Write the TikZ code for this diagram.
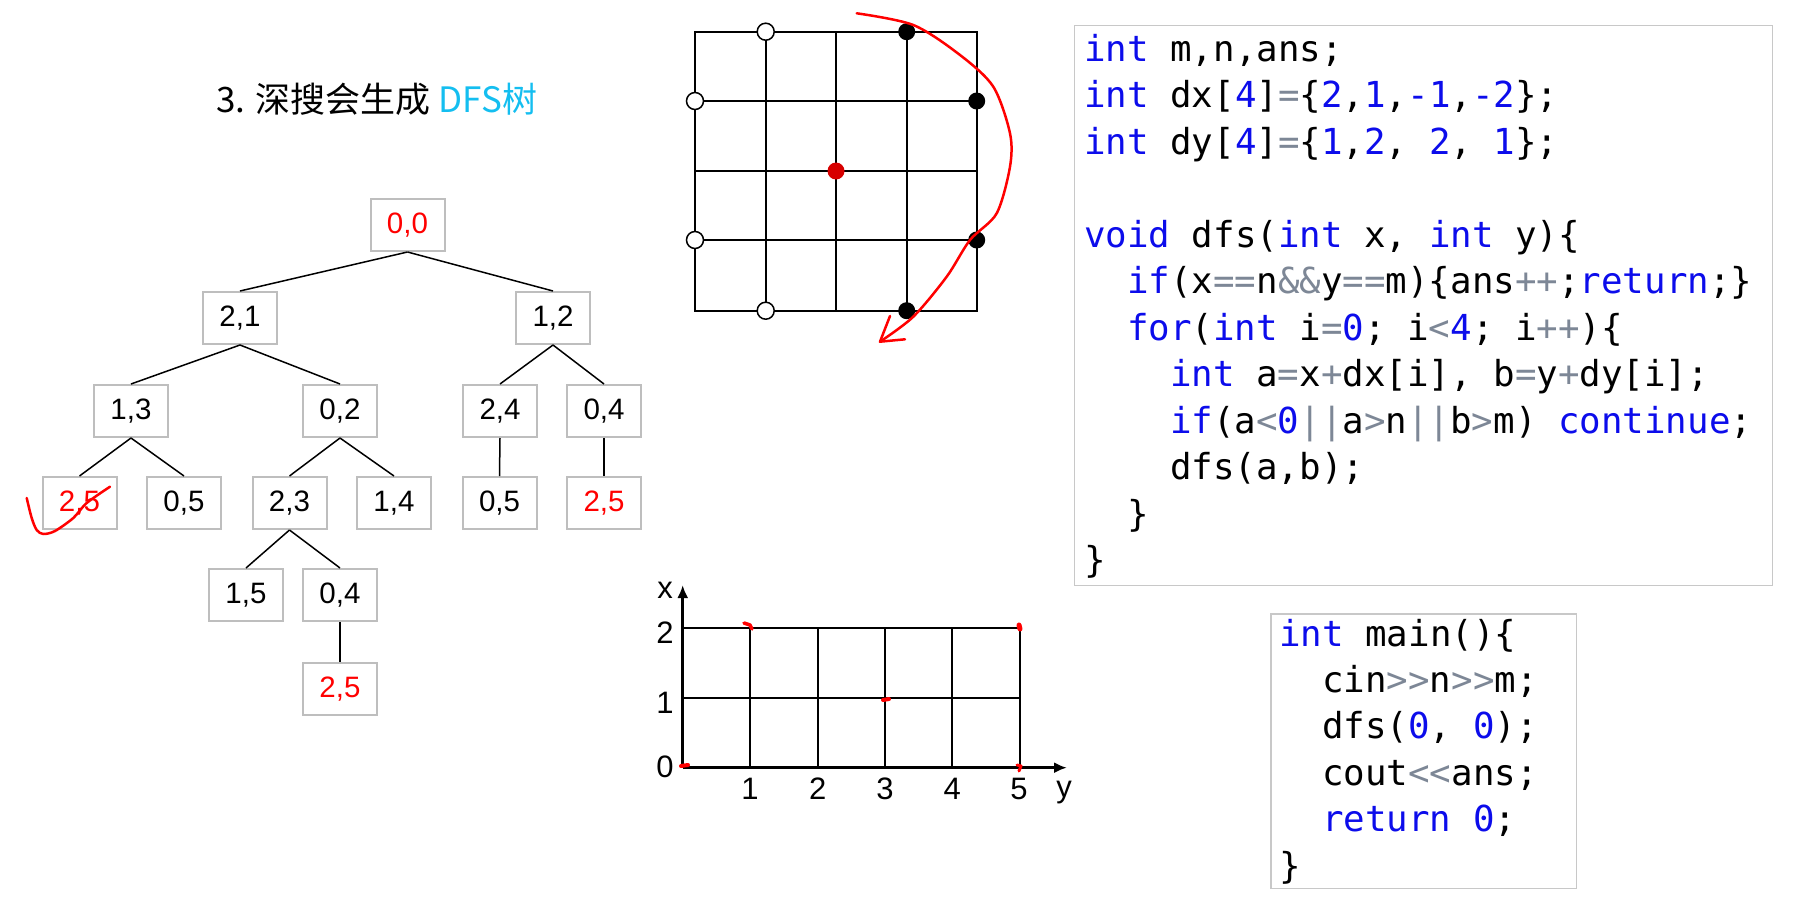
\documentclass[tikz,border=0pt]{standalone}
\usepackage{fontspec}
\usetikzlibrary{arrows.meta}

\newfontfamily\cjk{Noto Sans CJK SC}
\newfontfamily\sansdigits{Liberation Sans}
\newfontfamily\codefamily{DejaVu Sans Mono}

\definecolor{boxgray}{RGB}{190,190,190}
\definecolor{framegray}{RGB}{200,200,200}
\definecolor{codeblue}{RGB}{12,12,235}
\definecolor{opgray}{RGB}{125,135,150}
\definecolor{titlecyan}{RGB}{20,190,240}
\definecolor{dotred}{RGB}{215,0,0}

\newcommand\treefont{\sansdigits\fontsize{29.5}{34}\selectfont}
\newcommand\axisfont{\sansdigits\fontsize{31}{36}\selectfont}
\newcommand\codefont{\codefamily\fontsize{35.8}{42}\selectfont}
\newcommand\kw[1]{\textcolor{codeblue}{#1}}
\newcommand\op[1]{\textcolor{opgray}{#1}}

\tikzset{
  treebox/.style={draw=boxgray, line width=2, minimum width=74, minimum height=52,
    inner sep=0, font=\treefont},
  goal/.style={treebox, text=red},
  treeedge/.style={line width=1.5},
  gridline/.style={line width=2},
  hand/.style={red, line width=2.5, line cap=round, line join=round},
  codeline/.style={anchor=base west, inner sep=0, font=\codefont},
  axislabel/.style={anchor=base, inner sep=0, font=\axisfont},
  codeframe/.style={draw=framegray, line width=1.5},
}

\begin{document}
\begin{tikzpicture}[x=1pt, y=-1pt]
  \useasboundingbox (0,0) rectangle (1800,910);

  % title
  \node [anchor=base west, inner sep=0, font=\cjk\fontsize{35}{40}\selectfont]
    (title) at (216,112) {3. 深搜会生成 \textcolor{titlecyan}{DFS树}};

  % dfs tree
  \node [goal]    (root)     at (407.5,225) {0,0};
  \node [treebox] (n21)      at (240,318)   {2,1};
  \node [treebox] (n12)      at (553,318)   {1,2};
  \node [treebox] (n13)      at (131,411)   {1,3};
  \node [treebox] (n02)      at (340,411)   {0,2};
  \node [treebox] (n24)      at (500,411)   {2,4};
  \node [treebox] (n04)      at (604,411)   {0,4};
  \node [goal]    (n25 left) at (79.5,503)  {2,5};
  \node [treebox] (n05 left) at (184,503)   {0,5};
  \node [treebox] (n23)      at (289.5,503) {2,3};
  \node [treebox] (n14)      at (394,503)   {1,4};
  \node [treebox] (n05 right) at (499.5,503) {0,5};
  \node [goal]    (n25 right) at (604,503)  {2,5};
  \node [treebox] (n15)      at (246,595)   {1,5};
  \node [treebox] (n04 low)  at (340,595)   {0,4};
  \node [goal]    (n25 low)  at (340,689)   {2,5};

  \draw [treeedge] (root.south) -- (n21.north);
  \draw [treeedge] (root.south) -- (n12.north);
  \draw [treeedge] (n21.south) -- (n13.north);
  \draw [treeedge] (n21.south) -- (n02.north);
  \draw [treeedge] (n12.south) -- (n24.north);
  \draw [treeedge] (n12.south) -- (n04.north);
  \draw [treeedge] (n13.south) -- (n25 left.north);
  \draw [treeedge] (n13.south) -- (n05 left.north);
  \draw [treeedge] (n02.south) -- (n23.north);
  \draw [treeedge] (n02.south) -- (n14.north);
  \draw [treeedge] (n24.south) -- (n05 right.north);
  \draw [treeedge] (n04.south) -- (n25 right.north);
  \draw [treeedge] (n23.south) -- (n15.north);
  \draw [treeedge] (n23.south) -- (n04 low.north);
  \draw [treeedge] (n04 low.south) -- (n25 low.north);

  % red tick over the first 2,5
  \draw [hand]
    plot [smooth] coordinates {(26.7,498) (31.7,518) (36.7,530) (43.3,534)
      (55,531) (73.3,518) (86.7,503) (110,486.7)};

  % knight grid
  \draw [gridline] (695,31.7) rectangle (976.7,310.7);
  \draw [gridline] (765.7,31.7) -- (765.7,310.7);
  \draw [gridline] (836,31.7) -- (836,310.7);
  \draw [gridline] (906.7,31.7) -- (906.7,310.7);
  \draw [gridline] (695,101) -- (976.7,101);
  \draw [gridline] (695,171) -- (976.7,171);
  \draw [gridline] (695,240) -- (976.7,240);

  \fill [dotred] (836,171) circle (8.5);
  \draw [fill=white, line width=1.5] (765.7,31.7) circle (8.5);
  \draw [fill=white, line width=1.5] (695,101) circle (8.5);
  \draw [fill=white, line width=1.5] (695,240) circle (8.5);
  \draw [fill=white, line width=1.5] (765.7,310.7) circle (8.5);
  \fill (906.7,31.7) circle (8.5);
  \fill (976.7,101) circle (8.5);
  \fill (976.7,240) circle (8.5);
  \fill (906.7,310.7) circle (8.5);

  \draw [hand]
    plot [smooth] coordinates {(856.7,13.3) (913.3,25) (960,55) (993.3,86.7)
      (1010,133.3) (1010,166.7) (996.7,213.3) (970,240) (946.7,276.7)
      (913.3,316.7) (880,341.7)};
  \draw [hand] (890,316) -- (880,341.7) -- (905,339.3);

  % x-y grid
  \draw [gridline] (682.7,627.7) -- (1020,627.7);
  \draw [gridline] (682.7,697.7) -- (1020,697.7);
  \draw [gridline] (750,627.7) -- (750,767.7);
  \draw [gridline] (817.7,627.7) -- (817.7,767.7);
  \draw [gridline] (885,627.7) -- (885,767.7);
  \draw [gridline] (952.3,627.7) -- (952.3,767.7);
  \draw [gridline] (1020,627.7) -- (1020,767.7);
  \draw [line width=2.5, -{Latex[length=13,width=11]}] (682.7,767.7) -- (682.7,585);
  \draw [line width=2.5, -{Latex[length=13,width=11]}] (682.7,767.7) -- (1067,767.7);

  \node [axislabel] (label x) at (665,598.3) {x};
  \node [axislabel] (label x2) at (665,643) {2};
  \node [axislabel] (label x1) at (665,713) {1};
  \node [axislabel] (label x0) at (665,777.5) {0};
  \node [axislabel] (label y1) at (750,799) {1};
  \node [axislabel] (label y2) at (817.7,799) {2};
  \node [axislabel] (label y3) at (885,799) {3};
  \node [axislabel] (label y4) at (952.3,799) {4};
  \node [axislabel] (label y5) at (1019,799) {5};
  \node [axislabel] (label y) at (1064,797) {y};

  \draw [hand, line width=4] (681,766) -- (688,765);
  \draw [hand, line width=3.5] (744,623) -- (750,625) -- (752,629);
  \draw [hand, line width=4] (883,700) -- (889,699);
  \draw [hand, line width=5] (1019,625) -- (1020,629);
  \draw [hand, line width=3] (1017,765) -- (1021,766) -- (1019,771);

  % code of dfs
  \draw [codeframe] (1074.5,25.3) rectangle (1772.5,585.5);
  \node [codeline] (line 1)  at (1084,61)    {\kw{int} m,n,ans;};
  \node [codeline] (line 2)  at (1084,107.5) {\kw{int} dx[\kw{4}]\op{=}\{\kw{2},\kw{1},\kw{-1},\kw{-2}\};};
  \node [codeline] (line 3)  at (1084,154)   {\kw{int} dy[\kw{4}]\op{=}\{\kw{1},\kw{2}, \kw{2}, \kw{1}\};};
  \node [codeline] (line 5)  at (1084,247)   {\kw{void} dfs(\kw{int} x, \kw{int} y)\{};
  \node [codeline] (line 6)  at (1127,293.5) {\kw{if}(x\op{==}n\op{\&\&}y\op{==}m)\{ans\op{++};\kw{return};\}};
  \node [codeline] (line 7)  at (1127,340)   {\kw{for}(\kw{int} i\op{=}\kw{0}; i\op{<}\kw{4}; i\op{++})\{};
  \node [codeline] (line 8)  at (1170,386.5) {\kw{int} a\op{=}x\op{+}dx[i], b\op{=}y\op{+}dy[i];};
  \node [codeline] (line 9)  at (1170,433)   {\kw{if}(a\op{<}\kw{0}\op{||}a\op{>}n\op{||}b\op{>}m) \kw{continue};};
  \node [codeline] (line 10) at (1170,479.5) {dfs(a,b);};
  \node [codeline] (line 11) at (1127,526)   {\}};
  \node [codeline] (line 12) at (1084,572.5) {\}};

  % code of main
  \draw [codeframe] (1271,614) rectangle (1576.5,888.5);
  \node [codeline] (main 1) at (1279,646)   {\kw{int} main()\{};
  \node [codeline] (main 2) at (1322,692.4) {cin\op{>\kern0pt>}n\op{>\kern0pt>}m;};
  \node [codeline] (main 3) at (1322,738.8) {dfs(\kw{0}, \kw{0});};
  \node [codeline] (main 4) at (1322,785.2) {cout\op{<\kern0pt<}ans;};
  \node [codeline] (main 5) at (1322,831.6) {\kw{return} \kw{0};};
  \node [codeline] (main 6) at (1279,878)   {\}};
\end{tikzpicture}
\end{document}
